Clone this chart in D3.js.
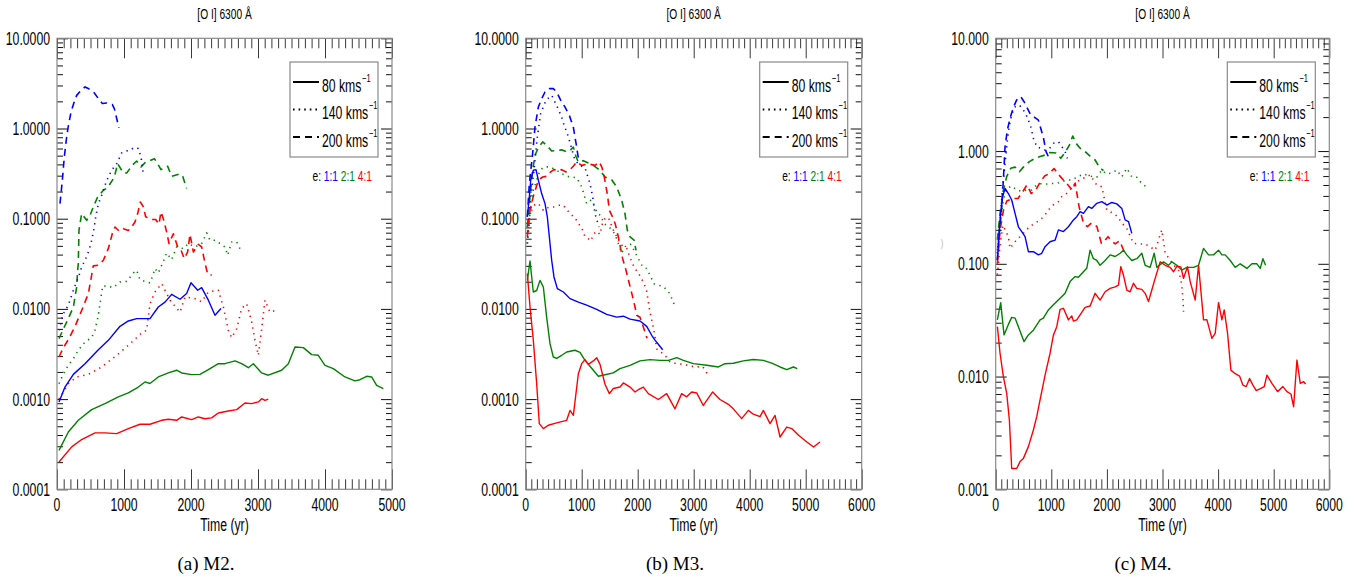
<!DOCTYPE html>
<html><head><meta charset="utf-8">
<script src="https://cdn.jsdelivr.net/npm/d3@7"></script>
<style>
html,body{margin:0;padding:0;background:#fff;}
svg{display:block;}
text{white-space:pre;}
</style></head><body>
<svg id="chart" width="1365" height="584"></svg>
<script>
// ---- [O I] 6300 Å luminosity vs. time, three models, 3 shock speeds x 3 density ratios ----
// Each series: [time (yr), flux]

// Model M2
const M2_80_11 = [[30,9.3e-4],[119,1.36e-3],[244,1.88e-3],[418,2.47e-3],[617,3.53e-3],[766,4.48e-3],[940,6.41e-3],[1065,7.35e-3],[1189,7.8e-3],[1388,7.8e-3],[1512,1.05e-2],[1612,1.19e-2],[1711,1.45e-2],[1836,1.28e-2],[1935,1.48e-2],[2000,1.95e-2],[2100,1.61e-2],[2159,1.72e-2],[2259,1.25e-2],[2358,8.5e-3],[2448,1.01e-2]];
const M2_80_21 = [[30,2.70e-4],[169,4.32e-4],[318,5.82e-4],[517,7.64e-4],[716,8.91e-4],[915,1.06e-3],[1065,1.17e-3],[1214,1.36e-3],[1313,1.55e-3],[1388,1.49e-3],[1512,1.76e-3],[1662,1.95e-3],[1786,2.09e-3],[1861,1.95e-3],[2010,1.87e-3],[2134,1.88e-3],[2259,2.12e-3],[2408,2.47e-3],[2507,2.47e-3],[2657,2.65e-3],[2756,2.47e-3],[2856,2.23e-3],[2930,2.47e-3],[3055,1.95e-3],[3154,1.84e-3],[3353,2.09e-3],[3453,2.47e-3],[3552,3.78e-3],[3677,3.72e-3],[3801,3.11e-3],[3900,3.06e-3],[4000,2.37e-3],[4124,2.18e-3],[4298,1.76e-3],[4448,1.59e-3],[4522,1.64e-3],[4622,1.79e-3],[4696,1.76e-3],[4771,1.42e-3],[4871,1.31e-3]];
const M2_80_41 = [[30,2.01e-4],[219,2.95e-4],[368,3.56e-4],[567,4.22e-4],[716,4.22e-4],[891,4.14e-4],[1065,4.71e-4],[1239,5.26e-4],[1388,5.26e-4],[1562,5.82e-4],[1662,5.97e-4],[1786,5.82e-4],[1861,6.34e-4],[2010,5.92e-4],[2109,6.34e-4],[2209,6.06e-4],[2308,6.2e-4],[2408,7.02e-4],[2557,7.39e-4],[2682,7.64e-4],[2806,9.06e-4],[2905,8.9e-4],[3005,9.3e-4],[3055,1.01e-3],[3104,9.7e-4],[3154,1.0e-3]];
const M2_140_11 = [[30,5.8e-3],[95,8.85e-3],[169,1.1e-2],[244,1.61e-2],[330,2.36e-2],[368,2.92e-2],[418,3.46e-2],[468,4.28e-2],[507,5.3e-2],[532,6.55e-2],[557,8.1e-2],[577,0.104],[617,0.147],[667,0.182],[716,0.234],[766,0.29],[816,0.344],[891,0.408],[965,0.536],[1025,0.564],[1090,0.57],[1144,0.614],[1214,0.6],[1254,0.483],[1289,0.31]];
const M2_140_21 = [[30,1.48e-3],[95,1.91e-3],[169,2.37e-3],[244,2.81e-3],[318,3.48e-3],[418,4.3e-3],[517,4.8e-3],[567,5.8e-3],[617,8.5e-3],[682,1.8e-2],[766,1.78e-2],[841,1.72e-2],[940,1.99e-2],[1040,2.02e-2],[1139,2.5e-2],[1189,2.68e-2],[1239,2.1e-2],[1388,1.94e-2],[1438,2.45e-2],[1463,2.8e-2],[1512,2.5e-2],[1587,3.35e-2],[1637,4.17e-2],[1711,3.52e-2],[1786,4.86e-2],[1886,4.66e-2],[1960,5.3e-2],[2060,4.86e-2],[2159,5.3e-2],[2234,6.95e-2],[2284,5.77e-2],[2358,5.77e-2],[2433,5.3e-2],[2507,4.86e-2],[2547,3.93e-2],[2607,5.52e-2],[2682,5.52e-2],[2731,4.66e-2]];
const M2_140_41 = [[30,1.0e-3],[95,1.2e-3],[169,1.48e-3],[294,1.76e-3],[468,1.88e-3],[667,2.27e-3],[891,3.06e-3],[1065,3.95e-3],[1254,5.32e-3],[1338,5.8e-3],[1388,1.14e-2],[1463,1.54e-2],[1562,1.91e-2],[1687,1.25e-2],[1836,9.2e-3],[1911,1.36e-2],[2060,1.3e-2],[2159,1.2e-2],[2259,1.54e-2],[2408,1.61e-2],[2483,1.05e-2],[2557,5.8e-3],[2607,4.8e-3],[2682,6.0e-3],[2756,1.01e-2],[2831,1.14e-2],[2905,7.2e-3],[2955,4.5e-3],[3005,3.06e-3],[3055,6.0e-3],[3104,1.25e-2],[3179,9.2e-3],[3254,9.6e-3]];
const M2_200_11 = [[45,0.147],[80,0.267],[109,0.483],[144,0.805],[169,1.06],[209,1.52],[249,1.89],[294,2.33],[358,2.65],[418,2.89],[468,2.77],[557,2.48],[607,2.2],[677,1.89],[741,1.92],[826,1.84],[856,1.66],[891,1.29],[925,1.02]];
const M2_200_21 = [[30,4.68e-3],[109,6.3e-3],[169,7.8e-3],[244,1.05e-2],[294,1.75e-2],[308,2.68e-2],[318,3.17e-2],[328,7.44e-2],[368,0.114],[443,9.6e-2],[493,0.109],[542,0.135],[607,0.174],[692,0.207],[756,0.221],[856,0.29],[905,0.408],[990,0.321],[1040,0.321],[1124,0.391],[1189,0.436],[1254,0.375],[1323,0.425],[1388,0.44],[1453,0.463],[1488,0.425],[1552,0.35],[1652,0.381],[1711,0.295],[1821,0.311],[1871,0.303],[1935,0.216]];
const M2_200_41 = [[30,2.93e-3],[95,3.72e-3],[169,4.56e-3],[269,6.4e-3],[368,9.6e-3],[468,1.48e-2],[542,3.0e-2],[617,3.05e-2],[692,3.46e-2],[766,4.66e-2],[826,6.84e-2],[866,8.1e-2],[925,7.3e-2],[990,7.76e-2],[1065,7.4e-2],[1114,8.1e-2],[1164,9.2e-2],[1204,0.114],[1244,0.153],[1289,0.135],[1323,0.105],[1413,9.8e-2],[1473,9.8e-2],[1522,8.7e-2],[1552,0.119],[1587,0.1],[1637,7.1e-2],[1672,5.3e-2],[1736,6.8e-2],[1801,4.86e-2],[1851,4.47e-2],[1900,3.61e-2],[1950,4.28e-2],[1985,6.7e-2],[2035,4.28e-2],[2109,5.2e-2],[2159,4.86e-2],[2209,3.23e-2],[2249,2.42e-2],[2308,2.37e-2]];

// Model M3
const M3_80_11 = [[29,0.105],[65,0.174],[89,0.267],[136,0.344],[184,0.35],[226,0.267],[285,0.19],[345,0.147],[386,0.105],[422,6.3e-2],[464,3.46e-2],[505,2.26e-2],[565,1.68e-2],[672,1.54e-2],[791,1.3e-2],[940,1.19e-2],[1089,1.1e-2],[1267,9.9e-3],[1446,8.7e-3],[1625,8.1e-3],[1744,8.3e-3],[1863,7.7e-3],[2041,7.35e-3],[2161,6.4e-3],[2250,5.1e-3],[2309,4.5e-3],[2368,4.05e-3],[2446,3.53e-3]];
const M3_80_21 = [[29,2.07e-2],[77,3.4e-2],[136,1.54e-2],[196,1.6e-2],[255,2.07e-2],[315,1.75e-2],[374,8.1e-3],[434,4.12e-3],[493,2.93e-3],[553,2.83e-3],[642,3.06e-3],[732,3.33e-3],[880,3.48e-3],[970,3.3e-3],[1059,2.69e-3],[1148,2.31e-3],[1297,1.79e-3],[1415,1.86e-3],[1564,1.95e-3],[1684,2.18e-3],[1863,2.37e-3],[2041,2.65e-3],[2220,2.74e-3],[2399,2.69e-3],[2548,2.69e-3],[2697,2.88e-3],[2816,2.69e-3],[2995,2.47e-3],[3233,2.37e-3],[3442,2.27e-3],[3558,2.47e-3],[3708,2.5e-3],[3887,2.65e-3],[4065,2.75e-3],[4244,2.69e-3],[4393,2.5e-3],[4542,2.27e-3],[4661,2.12e-3],[4780,2.27e-3],[4850,2.18e-3]];
const M3_80_41 = [[29,2.46e-2],[77,1.05e-2],[136,4.5e-3],[196,1.48e-3],[243,5.34e-4],[315,4.71e-4],[404,5.13e-4],[553,5.44e-4],[732,5.82e-4],[791,7.5e-4],[851,6.6e-4],[940,1.91e-3],[1000,2.47e-3],[1059,2.74e-3],[1119,2.43e-3],[1208,2.65e-3],[1267,2.88e-3],[1327,2.43e-3],[1416,1.46e-3],[1494,1.15e-3],[1565,1.31e-3],[1684,1.36e-3],[1744,1.51e-3],[1863,1.36e-3],[1952,1.2e-3],[2011,1.27e-3],[2101,1.36e-3],[2190,1.15e-3],[2368,9.9e-4],[2517,1.15e-3],[2666,7.8e-4],[2785,1.15e-3],[2874,1.06e-3],[2964,1.2e-3],[3053,1.17e-3],[3172,8.5e-4],[3339,1.2e-3],[3470,9.9e-4],[3619,8.75e-4],[3708,7.8e-4],[3857,6.07e-4],[3976,7.5e-4],[4065,6.8e-4],[4184,6.4e-4],[4244,7.5e-4],[4363,5.35e-4],[4452,6.6e-4],[4542,3.8e-4],[4661,4.9e-4],[4754,4.7e-4],[4873,3.97e-4],[5021,3.35e-4],[5140,2.94e-4],[5255,3.35e-4]];
const M3_140_11 = [[29,0.053],[77,0.147],[148,0.344],[208,0.805],[267,1.46],[362,2.06],[464,2.33],[565,1.73],[642,1.34],[684,1.09],[743,0.877],[779,0.74],[880,0.443],[970,0.39],[1059,0.368],[1148,0.245],[1196,0.174],[1237,0.114],[1308,0.081]];
const M3_140_21 = [[29,0.053],[77,0.105],[136,0.207],[196,0.267],[255,0.344],[327,0.375],[434,0.375],[553,0.344],[642,0.316],[732,0.295],[821,0.29],[910,0.285],[1000,0.225],[1089,0.147],[1160,0.16],[1219,0.141],[1279,0.114],[1339,0.109],[1398,0.088],[1476,0.082],[1535,0.0757],[1595,0.067],[1654,0.053],[1714,0.0417],[1791,0.0507],[1875,0.052],[1934,0.0447],[2011,0.036],[2089,0.0292],[2160,0.028],[2220,0.0236],[2291,0.019],[2386,0.0182],[2469,0.0175],[2564,0.015],[2624,0.0125],[2672,0.0103]];
const M3_140_41 = [[29,0.068],[65,0.105],[107,0.124],[166,0.144],[226,0.147],[315,0.124],[422,0.135],[493,0.135],[601,0.141],[672,0.141],[743,0.124],[803,0.112],[880,0.103],[940,0.088],[1000,0.0796],[1059,0.063],[1118,0.06],[1160,0.0567],[1219,0.068],[1267,0.0727],[1327,0.067],[1375,0.092],[1434,0.104],[1494,0.098],[1541,0.081],[1589,0.0695],[1636,0.062],[1684,0.053],[1744,0.049],[1803,0.047],[1863,0.037],[1934,0.0292],[1994,0.0257],[2053,0.0226],[2113,0.019],[2160,0.0158],[2208,0.0101],[2250,7.5e-3],[2280,6.2e-3],[2309,4.9e-3],[2339,3.6e-3],[2487,3.06e-3],[2577,2.58e-3],[2696,2.47e-3],[2815,2.43e-3],[2934,2.33e-3],[3053,2.27e-3],[3160,2.3e-3],[3243,1.91e-3]];
const M3_200_11 = [[29,0.105],[65,0.245],[124,0.527],[166,1.04],[226,1.73],[285,2.14],[345,2.54],[422,2.77],[493,2.77],[553,2.54],[624,2.06],[702,1.73],[779,1.4],[850,1.04],[910,0.624],[946,0.443]];
const M3_200_21 = [[29,0.081],[77,0.174],[124,0.344],[166,0.505],[226,0.614],[303,0.71],[374,0.652],[464,0.564],[553,0.57],[642,0.58],[732,0.55],[803,0.58],[850,0.624],[898,0.49],[940,0.425],[1029,0.44],[1118,0.415],[1208,0.39],[1327,0.344],[1416,0.29],[1535,0.27],[1625,0.225],[1714,0.16],[1773,0.114],[1815,0.0744],[1863,0.063],[1935,0.058],[1970,0.0446]];
const M3_200_41 = [[29,0.063],[77,0.124],[136,0.177],[226,0.267],[303,0.29],[374,0.295],[446,0.33],[505,0.35],[583,0.34],[642,0.35],[720,0.33],[791,0.35],[850,0.381],[910,0.425],[1000,0.39],[1118,0.405],[1237,0.39],[1315,0.425],[1363,0.368],[1398,0.303],[1458,0.187],[1494,0.124],[1553,0.104],[1601,0.0866],[1648,0.0655],[1696,0.0466],[1732,0.036],[1791,0.0268],[1851,0.019],[1910,0.0136],[1952,0.0105],[1982,0.0085],[2041,8.07e-3],[2101,6.3e-3],[2167,4.72e-3]];

// Model M4
const M4_80_11 = [[30,0.108],[66,0.2],[90,0.28],[126,0.394],[168,0.467],[228,0.42],[288,0.368],[348,0.28],[408,0.213],[468,0.193],[528,0.174],[588,0.128],[678,0.128],[768,0.12],[828,0.124],[888,0.142],[978,0.157],[1068,0.162],[1128,0.2],[1218,0.193],[1308,0.213],[1398,0.245],[1458,0.262],[1518,0.29],[1578,0.28],[1668,0.321],[1728,0.31],[1818,0.344],[1908,0.356],[1998,0.332],[2088,0.35],[2178,0.34],[2268,0.31],[2328,0.245],[2388,0.237],[2448,0.186]];
const M4_80_21 = [[30,0.0318],[90,0.0452],[150,0.0234],[228,0.029],[288,0.0335],[348,0.033],[408,0.0277],[510,0.0204],[588,0.0234],[678,0.0258],[798,0.0318],[858,0.033],[948,0.039],[1038,0.0433],[1158,0.0494],[1248,0.0547],[1338,0.0695],[1428,0.077],[1488,0.076],[1578,0.085],[1638,0.0912],[1698,0.132],[1758,0.111],[1818,0.107],[1878,0.097],[1968,0.107],[2058,0.12],[2148,0.116],[2238,0.124],[2298,0.132],[2358,0.12],[2448,0.107],[2538,0.111],[2628,0.124],[2688,0.097],[2778,0.093],[2850,0.124],[2898,0.093],[3018,0.104],[3108,0.097],[3168,0.104],[3258,0.097],[3348,0.088],[3438,0.093],[3558,0.093],[3648,0.097],[3738,0.137],[3828,0.12],[3918,0.12],[4008,0.132],[4068,0.12],[4128,0.12],[4218,0.107],[4308,0.093],[4398,0.1],[4518,0.091],[4608,0.1],[4698,0.1],[4758,0.091],[4806,0.111],[4854,0.097]];
const M4_80_41 = [[30,0.0277],[78,0.0161],[138,9.98e-3],[198,7.1e-3],[246,4.12e-3],[288,1.53e-3],[378,1.53e-3],[438,1.76e-3],[498,1.88e-3],[588,2.39e-3],[678,3.36e-3],[738,4.41e-3],[798,6.2e-3],[888,0.0103],[978,0.0161],[1038,0.0233],[1098,0.0277],[1158,0.0394],[1218,0.0403],[1308,0.0318],[1368,0.0345],[1398,0.031],[1458,0.0318],[1518,0.0352],[1608,0.0411],[1698,0.0422],[1788,0.0547],[1878,0.0477],[1968,0.0565],[2058,0.0605],[2148,0.0625],[2208,0.0647],[2250,0.0944],[2298,0.0795],[2358,0.0585],[2418,0.0565],[2478,0.0672],[2538,0.0605],[2628,0.0593],[2688,0.0547],[2748,0.0462],[2808,0.0585],[2868,0.0743],[2958,0.104],[3048,0.097],[3138,0.093],[3198,0.085],[3258,0.095],[3330,0.094],[3378,0.0743],[3450,0.094],[3498,0.0695],[3588,0.0477],[3648,0.097],[3738,0.0318],[3798,0.032],[3888,0.0218],[3948,0.0242],[4008,0.0452],[4068,0.0318],[4110,0.039],[4170,0.0242],[4230,0.0114],[4308,0.0106],[4386,0.0101],[4446,8.4e-3],[4506,8.15e-3],[4566,9.6e-3],[4626,8.4e-3],[4686,7.5e-3],[4770,7.85e-3],[4830,8.15e-3],[4878,0.0103],[4968,8.7e-3],[5070,7.35e-3],[5166,8.15e-3],[5238,7.35e-3],[5310,7.0e-3],[5358,5.4e-3],[5418,0.014],[5478,8.7e-3],[5538,9.0e-3],[5574,8.6e-3]];
const M4_140_11 = [[30,0.124],[78,0.245],[126,0.483],[168,0.778],[210,1.25],[246,1.7],[294,2.16],[354,2.48],[426,2.56],[498,2.31],[570,1.99],[630,1.64],[678,1.3],[738,1.09],[810,1.06],[888,1.02],[966,1.05],[1038,1.17],[1128,1.21],[1188,1.1],[1248,0.987],[1290,0.861]];
const M4_140_21 = [[30,0.132],[78,0.23],[138,0.368],[210,0.467],[288,0.49],[378,0.452],[468,0.44],[558,0.452],[648,0.452],[738,0.5],[828,0.516],[918,0.51],[1008,0.516],[1098,0.516],[1188,0.535],[1278,0.553],[1368,0.553],[1458,0.585],[1578,0.626],[1698,0.6],[1818,0.585],[1908,0.679],[1998,0.626],[2088,0.64],[2178,0.679],[2268,0.59],[2358,0.703],[2448,0.59],[2538,0.585],[2628,0.516],[2718,0.477]];
const M4_140_41 = [[30,0.08],[80,0.15],[130,0.22],[228,0.174],[258,0.137],[348,0.157],[438,0.174],[528,0.193],[606,0.213],[708,0.229],[798,0.245],[888,0.271],[948,0.3],[1038,0.333],[1128,0.356],[1188,0.394],[1278,0.422],[1368,0.477],[1458,0.535],[1578,0.573],[1698,0.614],[1758,0.553],[1818,0.5],[1908,0.483],[1998,0.3],[2118,0.28],[2200,0.26],[2268,0.229],[2350,0.21],[2478,0.152],[2560,0.15],[2690,0.15],[2790,0.14],[2868,0.132],[2988,0.2],[3048,0.124],[3138,0.108],[3198,0.098],[3288,0.088],[3348,0.065],[3368,0.048],[3378,0.0376]];
const M4_200_11 = [[30,0.108],[66,0.186],[108,0.321],[138,0.553],[168,1.09],[210,1.54],[258,1.95],[318,2.44],[378,2.84],[450,3.04],[510,2.74],[570,2.39],[630,2.09],[726,1.95],[768,1.88],[810,1.59],[858,1.32],[906,0.987],[948,0.89]];
const M4_200_21 = [[30,0.163],[78,0.28],[138,0.452],[198,0.593],[270,0.703],[348,0.72],[426,0.656],[498,0.72],[606,0.806],[708,0.862],[798,0.893],[888,0.922],[978,0.97],[1086,0.96],[1170,0.862],[1248,0.97],[1326,1.13],[1386,1.36],[1446,1.17],[1518,1.06],[1608,0.99],[1698,0.9],[1788,0.833],[1866,0.717],[1938,0.67]];
const M4_200_41 = [[30,0.1],[80,0.2],[140,0.3],[200,0.36],[300,0.38],[400,0.38],[480,0.43],[560,0.5],[640,0.42],[720,0.45],[800,0.53],[880,0.6],[960,0.63],[1050,0.7],[1130,0.62],[1220,0.55],[1300,0.5],[1380,0.45],[1430,0.52],[1500,0.32],[1580,0.229],[1650,0.214],[1720,0.229],[1820,0.214],[1900,0.152],[1960,0.16],[2020,0.174],[2080,0.16],[2150,0.15],[2230,0.16],[2300,0.132],[2350,0.12]];

// Legend / category labels
const speeds = ["80", "140", "200"];
const ratios = ["1:1", "2:1", "4:1"];
const ratioColors = ["#0000ff", "#008200", "#ff0000"];
const speedDash = [null, "1.3,4.6", "7,5"];

// Axis ticks and labels
const xTicksM2 = [0, 1000, 2000, 3000, 4000, 5000];
const xTicksM3 = [0, 1000, 2000, 3000, 4000, 5000, 6000];
const xTicksM4 = [0, 1000, 2000, 3000, 4000, 5000, 6000];
const yTicksM2 = [1e-4, 1e-3, 1e-2, 1e-1, 1, 10];
const yLabelsM2 = ["0.0001", "0.0010", "0.0100", "0.1000", "1.0000", "10.0000"];
const yTicksM3 = [1e-4, 1e-3, 1e-2, 1e-1, 1, 10];
const yLabelsM3 = ["0.0001", "0.0010", "0.0100", "0.1000", "1.0000", "10.0000"];
const yTicksM4 = [1e-3, 1e-2, 1e-1, 1, 10];
const yLabelsM4 = ["0.001", "0.010", "0.100", "1.000", "10.000"];
const captions = ["(a) M2.", "(b) M3.", "(c) M4."];
const titleText = "[O I] 6300 Å";
const xTitle = "Time (yr)";

// series tables: [data, speed index, ratio index]
const seriesM2 = [[M2_200_11,2,0],[M2_200_21,2,1],[M2_200_41,2,2],[M2_140_11,1,0],[M2_140_21,1,1],[M2_140_41,1,2],[M2_80_21,0,1],[M2_80_41,0,2],[M2_80_11,0,0]];
const seriesM3 = [[M3_200_11,2,0],[M3_200_21,2,1],[M3_200_41,2,2],[M3_140_11,1,0],[M3_140_21,1,1],[M3_140_41,1,2],[M3_80_21,0,1],[M3_80_41,0,2],[M3_80_11,0,0]];
const seriesM4 = [[M4_200_11,2,0],[M4_200_21,2,1],[M4_200_41,2,2],[M4_140_11,1,0],[M4_140_21,1,1],[M4_140_41,1,2],[M4_80_21,0,1],[M4_80_41,0,2],[M4_80_11,0,0]];

const panels = [
  {left: 57,    right: 392,    xTicks: xTicksM2, yTicks: yTicksM2, yLabels: yLabelsM2, series: seriesM2, capX: 206},
  {left: 525.7, right: 861.7,  xTicks: xTicksM3, yTicks: yTicksM3, yLabels: yLabelsM3, series: seriesM3, capX: 675},
  {left: 995.7, right: 1329.3, xTicks: xTicksM4, yTicks: yTicksM4, yLabels: yLabelsM4, series: seriesM4, capX: 1143}
];
const TOP = 38.3, BOTTOM = 489.3;
const FONT = "'Liberation Sans', Arial, Helvetica, sans-serif";
const SERIF = "'Liberation Serif', 'Times New Roman', serif";
const SX = 0.68;   // horizontal squeeze for the narrow plot lettering

const svg = d3.select("#chart");

function label(g, x, y, s, size, anchor, sx) {
  return g.append("text")
    .attr("transform", `translate(${x},${y}) scale(${sx},1)`)
    .attr("text-anchor", anchor)
    .attr("font-family", FONT)
    .attr("font-size", size)
    .attr("fill", "#000")
    .text(s);
}

function styleTicks(sel, color) {
  sel.select(".domain").remove();
  sel.selectAll(".tick line").attr("stroke", color).attr("stroke-width", 1);
}

panels.forEach((p, pi) => {
  const g = svg.append("g");
  const xMax = p.xTicks[p.xTicks.length - 1];
  const yMin = p.yTicks[0], yMax = p.yTicks[p.yTicks.length - 1];
  const x = d3.scaleLinear().domain([0, xMax]).range([p.left, p.right]);
  const y = d3.scaleLog().domain([yMin, yMax]).range([BOTTOM, TOP]);

  const xMinor = d3.range(100, xMax, 100).filter(t => t % 1000 !== 0);
  const yMinor = [];
  for (let e = Math.round(Math.log10(yMin)); e < Math.round(Math.log10(yMax)); e++) {
    for (let m = 2; m <= 9; m++) yMinor.push(m * Math.pow(10, e));
  }

  // tick marks (inward, all four sides)
  const tickColor = "#3a3a3a";
  [[d3.axisBottom, BOTTOM], [d3.axisTop, TOP]].forEach(([ax, yy]) => {
    g.append("g").attr("transform", `translate(0,${yy})`)
      .call(ax(x).tickValues(p.xTicks).tickSizeInner(-20).tickSizeOuter(0).tickFormat(""))
      .call(s => styleTicks(s, tickColor));
    g.append("g").attr("transform", `translate(0,${yy})`)
      .call(ax(x).tickValues(xMinor).tickSizeInner(-10).tickSizeOuter(0).tickFormat(""))
      .call(s => styleTicks(s, tickColor));
  });
  [[d3.axisLeft, p.left], [d3.axisRight, p.right]].forEach(([ax, xx]) => {
    g.append("g").attr("transform", `translate(${xx},0)`)
      .call(ax(y).tickValues(p.yTicks).tickSizeInner(-11).tickSizeOuter(0).tickFormat(""))
      .call(s => styleTicks(s, "#111"));
    g.append("g").attr("transform", `translate(${xx},0)`)
      .call(ax(y).tickValues(yMinor).tickSizeInner(-6).tickSizeOuter(0).tickFormat(""))
      .call(s => styleTicks(s, "#111"));
  });

  // frame
  g.append("rect")
    .attr("x", p.left).attr("y", TOP)
    .attr("width", p.right - p.left).attr("height", BOTTOM - TOP)
    .attr("fill", "none").attr("stroke", "#8a8a8a").attr("stroke-width", 1.2);

  // tick labels
  p.xTicks.forEach(t => label(g, x(t), 511, String(t), 18, "middle", SX));
  p.yTicks.forEach((v, k) => label(g, p.left - 7, y(v) + 6.5, p.yLabels[k], 18, "end", SX));

  // titles
  label(g, (p.left + p.right) / 2, 18.5, titleText, 15, "middle", SX);
  label(g, (p.left + p.right) / 2, 531, xTitle, 18, "middle", SX);
  g.append("text").attr("x", p.capX).attr("y", 570)
    .attr("text-anchor", "middle").attr("font-family", SERIF).attr("font-size", 19)
    .attr("fill", "#000").text(captions[pi]);

  // curves
  const clipId = "clip" + pi;
  g.append("clipPath").attr("id", clipId).append("rect")
    .attr("x", p.left).attr("y", TOP).attr("width", p.right - p.left).attr("height", BOTTOM - TOP);
  const line = d3.line().x(d => x(d[0])).y(d => y(d[1]));
  const curves = g.append("g").attr("clip-path", `url(#${clipId})`);
  p.series.forEach(([data, si, ri]) => {
    curves.append("path")
      .attr("d", line(data))
      .attr("fill", "none")
      .attr("stroke", ratioColors[ri])
      .attr("stroke-width", si === 0 ? 1.4 : 1.6)
      .attr("stroke-linejoin", "round")
      .attr("stroke-dasharray", speedDash[si]);
  });

  // legend
  const bx = p.right - 102, by = 62;
  g.append("rect").attr("x", bx).attr("y", by).attr("width", 88).attr("height", 95)
    .attr("fill", "#fff").attr("stroke", "#8a8a8a").attr("stroke-width", 1.2);
  speeds.forEach((s, si) => {
    const ly = 82 + si * 27.5;
    g.append("line").attr("x1", bx + 3).attr("x2", bx + 29).attr("y1", ly).attr("y2", ly)
      .attr("stroke", "#000").attr("stroke-width", 2)
      .attr("stroke-dasharray", si === 1 ? "1.6,4" : si === 2 ? "7,5" : null);
    const t = label(g, bx + 32, ly + 9.5, s + " kms", 18, "start", SX);
    t.append("tspan").attr("dy", -10).attr("dx", 1).attr("font-size", 11).text("−1");
  });
  const et = label(g, p.right - 20, 181, "e: ", 15, "end", SX);
  ratios.forEach((r, ri) => {
    et.append("tspan").attr("fill", ratioColors[ri]).text(ri < ratios.length - 1 ? r + " " : r);
  });
});

// faint glyph left of the M4 frame
label(svg, 942, 247, ")", 11, "middle", SX).attr("fill", "#b0b0b0");
</script>
</body></html>
